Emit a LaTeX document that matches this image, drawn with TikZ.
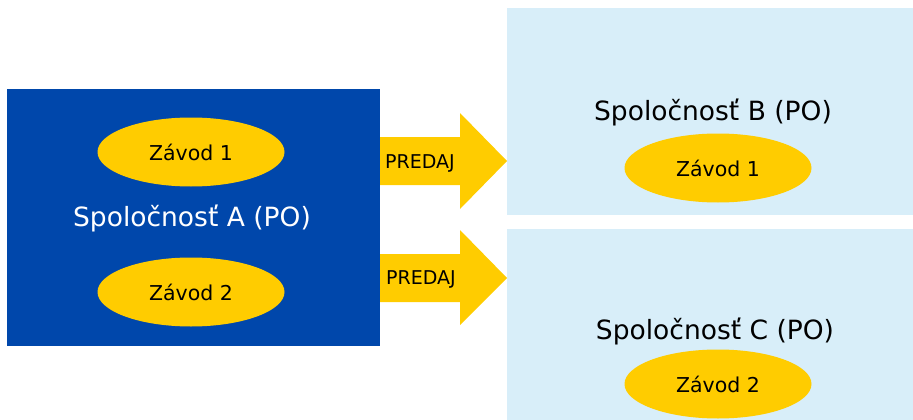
\documentclass[tikz,border=0pt]{standalone}
\usepackage{fontspec}
\setmainfont{DejaVu Sans}
\usetikzlibrary{shapes.geometric}
\definecolor{darkblue}{RGB}{0,71,171}
\definecolor{lightblue}{RGB}{216,238,249}
\definecolor{gold}{RGB}{255,204,0}
\begin{document}
\begin{tikzpicture}[x=1pt,y=-1pt,
  company/.style={fill=#1, draw=none},
  plant/.style={ellipse, fill=gold, draw=none, minimum width=187pt, minimum height=69pt, inner sep=0pt, font=\fontsize{20.5}{24}\selectfont},
  title/.style={font=\fontsize{26.5}{30}\selectfont, inner sep=0pt},
  sale/.style={fill=gold, draw=none},
  salelabel/.style={font=\fontsize{19}{22}\selectfont, inner sep=0pt}]
\useasboundingbox (0,0) rectangle (913,420);
% boxes
\fill[company=darkblue] (7,89) rectangle (380,346);
\fill[company=lightblue] (507,8) rectangle (913,215);
\fill[company=lightblue] (507,229) rectangle (913,420);
% arrows
\fill[sale] (380,137) -- (460,137) -- (460,113) -- (507,161) -- (460,209) -- (460,185) -- (380,185) -- cycle;
\fill[sale] (380,254) -- (460,254) -- (460,230) -- (507,278) -- (460,325) -- (460,302) -- (380,302) -- cycle;
\node[salelabel] (s1) at (420,163) {PREDAJ};
\node[salelabel] (s2) at (421,279) {PREDAJ};
% company A
\node[plant] (a1) at (191,152) {Závod 1};
\node[plant] (a2) at (191,292) {Závod 2};
\node[title, text=white] (ta) at (192,218) {Spoločnosť A (PO)};
% company B
\node[title] (tb) at (713,112) {Spoločnosť B (PO)};
\node[plant] (b1) at (718,168) {Závod 1};
% company C
\node[title] (tc) at (715,331) {Spoločnosť C (PO)};
\node[plant] (c2) at (718,384) {Závod 2};
\end{tikzpicture}
\end{document}
